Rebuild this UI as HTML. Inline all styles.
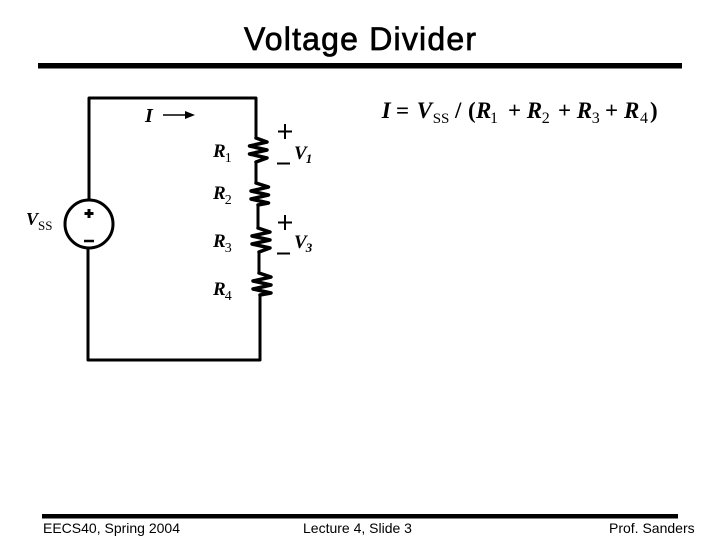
<!DOCTYPE html>
<html>
<head>
<meta charset="utf-8">
<style>
html,body{margin:0;padding:0;background:#fff;width:720px;height:540px;overflow:hidden}
svg{display:block}
text{fill:#000}
.s{font-family:"Liberation Sans",sans-serif}
.r{font-family:"Liberation Serif",serif;font-weight:bold}
.i{font-style:italic}
.n{font-weight:normal}
</style>
</head>
<body>
<svg width="720" height="540" viewBox="0 0 720 540" xmlns="http://www.w3.org/2000/svg">
<rect width="720" height="540" fill="#fff"/>
<text class="s" x="244" y="50" font-size="32" textLength="232" stroke="#000" stroke-width="0.7">Voltage Divider</text>
<rect x="38" y="63" width="644" height="5.500" fill="#000"/>
<rect x="42" y="514" width="636" height="4.500" fill="#000"/>
<text class="s" x="43" y="533" font-size="14">EECS40, Spring 2004</text>
<text class="s" x="303" y="533" font-size="14">Lecture 4, Slide 3</text>
<text class="s" x="609" y="533" font-size="14">Prof. Sanders</text>

<g fill="none" stroke="#000" stroke-width="3" stroke-linejoin="round" stroke-linecap="round">
<path d="M89 200V98H256V138"/>
<path d="M256 162V183M258 205V228M259 252V273M260 295V360H88V248"/>
<circle cx="89" cy="224" r="24"/>
</g>
<g fill="none" stroke="#000" stroke-width="3.500" stroke-linejoin="round" stroke-linecap="round">
<path d="M256 138L267 142L249.500 146L267 150L249.500 154L267 158L256 162"/>
<path d="M256 183L268.500 187L251 191L268.500 195L251 199L268.500 203L258 205"/>
<path d="M258 228L270 232L252 236L270 240L252 244L270 248L259 252"/>
<path d="M259 273L271 277L253 281L271 285L253 289L271 293L260 295"/>
</g>
<path d="M163 115H186" stroke="#000" stroke-width="1.500"/>
<path d="M185 111L195 115L185 119Z" fill="#000"/>

<path d="M89 209V218M84.500 213.500H93.500" stroke="#000" stroke-width="3"/>
<path d="M84 241H94" stroke="#000" stroke-width="2.500"/>
<path d="M285 124V139M278 131.500H292" stroke="#000" stroke-width="2"/>
<path d="M277 163.500H290" stroke="#000" stroke-width="2"/>
<path d="M285 215V230M278 222.500H292" stroke="#000" stroke-width="2"/>
<path d="M277 253.500H290" stroke="#000" stroke-width="2"/>

<text class="r i" x="145" y="122" font-size="20">I</text>
<text class="r" x="213" y="157" font-size="19"><tspan class="i">R</tspan><tspan class="n" font-size="14" dx="-1" dy="5">1</tspan></text>
<text class="r" x="213" y="199" font-size="19"><tspan class="i">R</tspan><tspan class="n" font-size="14" dx="-1" dy="5">2</tspan></text>
<text class="r" x="213" y="247" font-size="19"><tspan class="i">R</tspan><tspan class="n" font-size="14" dx="-1" dy="5">3</tspan></text>
<text class="r" x="213" y="295" font-size="19"><tspan class="i">R</tspan><tspan class="n" font-size="14" dx="-1" dy="5">4</tspan></text>
<text class="r i" x="294" y="159" font-size="19">V<tspan font-size="13" dx="-1" dy="4">1</tspan></text>
<text class="r i" x="294" y="248" font-size="19">V<tspan font-size="13" dx="-1" dy="4">3</tspan></text>
<text class="r" x="26" y="225" font-size="18"><tspan class="i">V</tspan><tspan class="n" font-size="13" x="38" dy="5">SS</tspan></text>
<text class="r" y="118" font-size="23"><tspan class="i" x="381.700">I</tspan><tspan x="396">=</tspan><tspan class="i" x="416.700">V</tspan><tspan class="n" font-size="15" x="432.700" dy="5">SS</tspan><tspan x="455" dy="-5">/</tspan><tspan x="468">(</tspan><tspan class="i" x="476">R</tspan><tspan class="n" font-size="16" x="490" dy="5">1</tspan><tspan x="508" dy="-5">+</tspan><tspan class="i" x="526.700">R</tspan><tspan class="n" font-size="16" x="541.700" dy="5">2</tspan><tspan x="558" dy="-5">+</tspan><tspan class="i" x="576.700">R</tspan><tspan class="n" font-size="16" x="591.700" dy="5">3</tspan><tspan x="605" dy="-5">+</tspan><tspan class="i" x="624">R</tspan><tspan class="n" font-size="16" x="640" dy="5">4</tspan><tspan x="650" dy="-5">)</tspan></text>
</svg>
</body>
</html>
